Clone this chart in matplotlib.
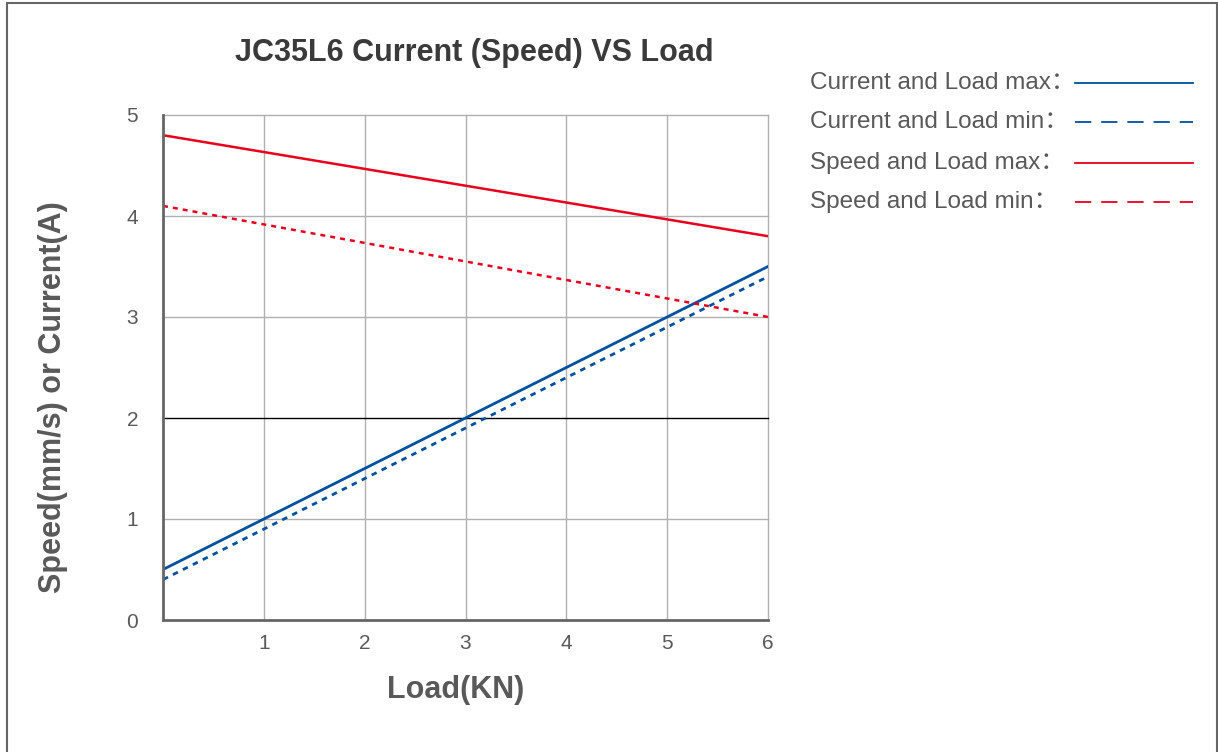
import numpy as np
import matplotlib.pyplot as plt
from matplotlib.lines import Line2D
from matplotlib.patches import Rectangle

# Dados
load = [0, 6]
current_max = [0.5, 3.5]
current_min = [0.4, 3.4]
speed_max = [4.8, 3.8]
speed_min = [4.1, 3.0]

legend_labels = ['Current and Load max：', 'Current and Load min：',
                 'Speed and Load max：', 'Speed and Load min：']

plt.rcParams['font.family'] = ['Liberation Sans', 'Noto Sans CJK SC', 'DejaVu Sans']

azul = '#0050a0'
vermelho = '#e8001c'
cinza_txt = '#595959'

fig = plt.figure(figsize=(12.18, 7.52), dpi=100)
ax = fig.add_axes([163/1218, 1-620/752, 605/1218, 505/752])

ax.plot(load, current_max, color=azul, lw=2.0)
ax.plot(load, current_min, color=azul, lw=2.0, ls=(0, (2, 2)))
ax.plot(load, speed_max, color=vermelho, lw=1.8)
ax.plot(load, speed_min, color=vermelho, lw=1.8, ls=(0, (2, 2)))

ax.set_xlim(0, 6)
ax.set_ylim(0, 5)
ax.set_xticks([1, 2, 3, 4, 5, 6])
ax.set_yticks([0, 1, 2, 3, 4, 5])
ax.tick_params(length=0, labelsize=15, labelcolor=cinza_txt, pad=10)
ax.tick_params(axis='y', pad=18)

# grade
for x in range(1, 7):
    ax.axvline(x, color='#b0b0b0', lw=1, zorder=0, clip_on=False)
for y in range(1, 6):
    ax.axhline(y, color='black' if y == 2 else '#b0b0b0', lw=1, zorder=0, clip_on=False)

for s in ['top', 'right']:
    ax.spines[s].set_visible(False)
for s in ['left', 'bottom']:
    ax.spines[s].set_color('#666666')
    ax.spines[s].set_linewidth(2)

ax.set_title('JC35L6 Current (Speed) VS Load', fontsize=22, fontweight='bold',
             color='#3a3a3a', pad=39, x=0.515)
ax.set_xlabel('Load(KN)', fontsize=22, fontweight='bold', color=cinza_txt, labelpad=16)
ax.set_ylabel('Speed(mm/s) or Current(A)', fontsize=22, fontweight='bold',
              color=cinza_txt, labelpad=42)
ax.xaxis.label.set_x(0.484)
ax.yaxis.label.set_y(0.442)

# legenda manual
estilos = [(azul, '-'), (azul, (0, (9, 5.5))), (vermelho, '-'), (vermelho, (0, (9, 5.5)))]
ys = [83, 122, 163, 202]
for lab, (cor, ls), yp in zip(legend_labels, estilos, ys):
    fy = 1 - yp/752
    fig.text(810/1218, fy, lab, fontsize=17.5, color=cinza_txt, va='center')
    fig.add_artist(Line2D([1075/1218, 1193/1218], [fy, fy], color=cor, lw=1.3,
                          ls=ls, transform=fig.transFigure))

# borda da figura
fig.add_artist(Rectangle((7/1218, -0.01), 1210/1218, 1.01 - 3/752, fill=False,
                         edgecolor='#666666', lw=1.5, transform=fig.transFigure))

plt.savefig('out.png', dpi=100)
